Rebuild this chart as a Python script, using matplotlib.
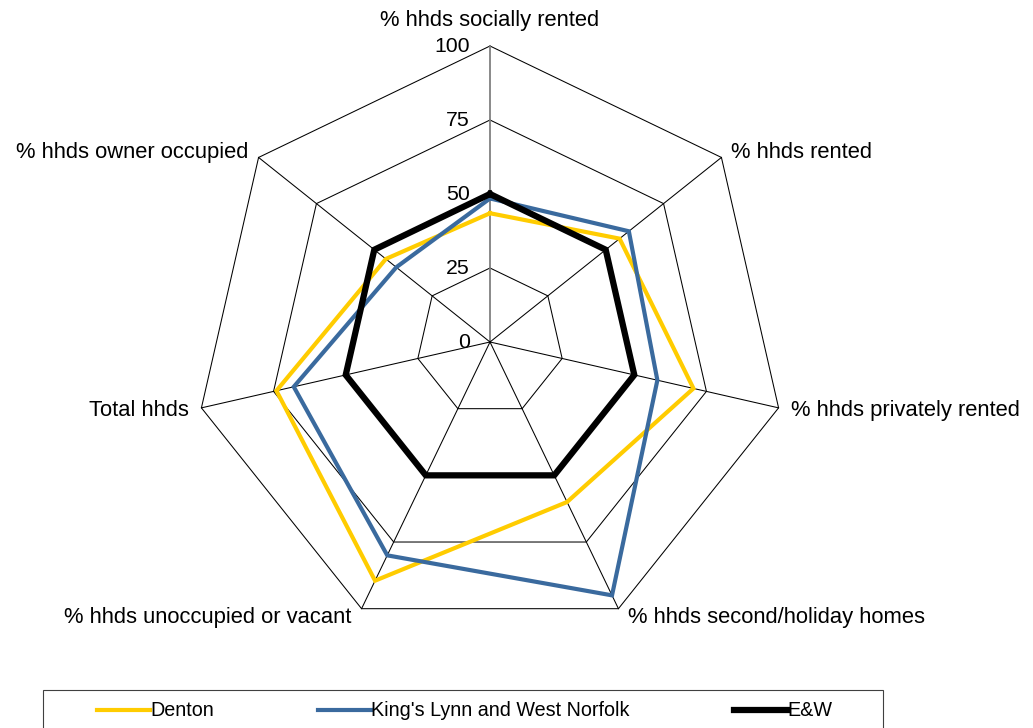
import numpy as np
import matplotlib
matplotlib.use("Agg")
import matplotlib.pyplot as plt
from matplotlib.patches import Rectangle

plt.rcParams['font.family'] = ['Liberation Sans', 'DejaVu Sans']

categories = ["% hhds socially rented", "% hhds rented", "% hhds privately rented",
              "% hhds second/holiday homes", "% hhds unoccupied or vacant",
              "Total hhds", "% hhds owner occupied"]
denton = [43.5, 56, 70.5, 60, 89.5, 74, 45]
kings_lynn = [48.5, 60, 58, 95, 80, 68, 40.5]
ew = [50, 50, 50, 50, 50, 50, 50]
series_names = ["Denton", "King's Lynn and West Norfolk", "E&W"]
series_colors = ["#FFCC00", "#3A6A9E", "#000000"]
series_widths = [3.0, 3.0, 4.5]
ticks = [0, 25, 50, 75, 100]

W, H = 1033, 728
cx, cy, R = 490, 342, 296
fig = plt.figure(figsize=(W / 100, H / 100), dpi=100)
ax = fig.add_axes([0, 0, 1, 1])
s = R / 100.0
ax.set_xlim(-cx / s, (W - cx) / s)
ax.set_ylim(-(H - cy) / s, cy / s)
ax.axis('off')

n = len(categories)
ang = np.pi / 2 - np.arange(n) * 2 * np.pi / n
ux, uy = np.cos(ang), np.sin(ang)

def closed(a):
    return np.append(a, a[0])

# grid
for t in ticks[1:]:
    ax.plot(closed(t * ux), closed(t * uy), color='black', lw=0.75, zorder=1)
for i in range(n):
    col = '#808080' if i == 0 else 'black'
    lw = 1.3 if i == 0 else 0.75
    ax.plot([0, 100 * ux[i]], [0, 100 * uy[i]], color=col, lw=lw, zorder=1)

# tick labels
for t in ticks:
    ax.annotate(str(t), (0, t), xytext=(-14.5, 0), textcoords='offset points',
                ha='right', va='center', fontsize=15.3)

# series
handles = []
for vals, name, c, lw in zip([denton, kings_lynn, ew], series_names, series_colors, series_widths):
    v = np.array(vals)
    h, = ax.plot(closed(v * ux), closed(v * uy), color=c, lw=lw, label=name,
                 solid_joinstyle='miter', zorder=3)
    handles.append(h)

# category labels
offsets = [(0, 18.5), (7, 3.5), (9, -2), (7, -6.5), (-7, -6.5), (-9, -2), (-7, 3.5)]
has = ['center', 'left', 'left', 'left', 'right', 'right', 'right']
for i, cat in enumerate(categories):
    ax.annotate(cat, (100 * ux[i], 100 * uy[i]), xytext=offsets[i],
                textcoords='offset points', ha=has[i], va='center', fontsize=15.8)

# legend frame
fig.patches.append(Rectangle((43 / W, -5 / H), 840 / W, (38 + 5) / H, transform=fig.transFigure,
                             facecolor='white', edgecolor='#404040', lw=0.8, zorder=0))
leg = fig.legend(handles=handles, loc='center left',
                 bbox_to_anchor=(97 / W, (728 - 711) / H - 10 / H, 735 / W, 20 / H),
                 mode='expand', ncol=3, fontsize=14.2, frameon=False,
                 handlelength=2.7, handletextpad=0.0, columnspacing=5.0,
                 borderpad=0, borderaxespad=0)

fig.savefig('out.png', dpi=100)
